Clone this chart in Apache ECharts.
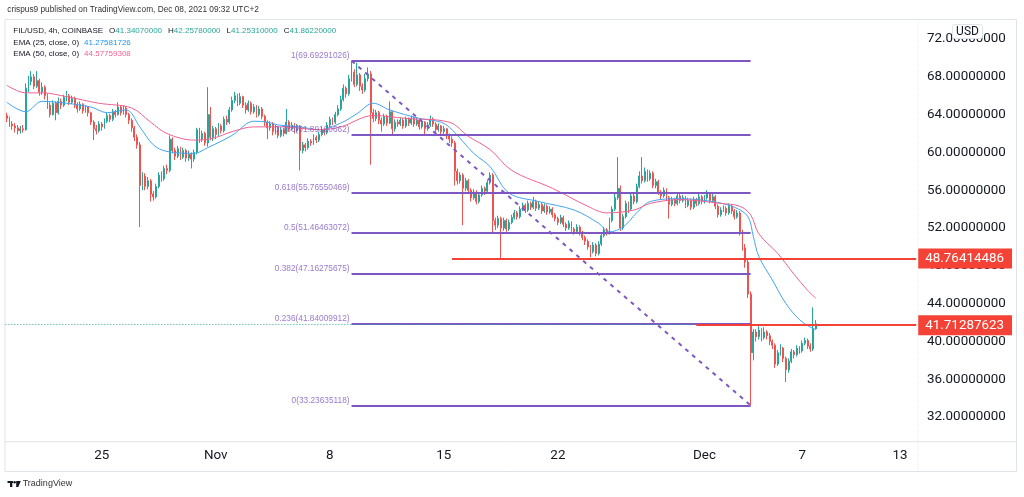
<!DOCTYPE html>
<html>
<head>
<meta charset="utf-8">
<script src="https://cdn.jsdelivr.net/npm/echarts@6/dist/echarts.min.js"></script>
<style>
html,body{margin:0;padding:0;background:#fff;}
#c{width:1024px;height:497px;}
</style>
</head>
<body>
<div id="c"></div>
<script>
// ---- categories: 4h candles starting 2021-10-19 04:00 ----
const startUTC = Date.UTC(2021, 9, 19, 4);
const slotCount = 336;
const categories = [];
for (let k = 0; k < slotCount; k++) {
  const d = new Date(startUTC + k * 4 * 3600 * 1000);
  categories.push(d.toISOString().slice(0, 16).replace('T', ' '));
}
const xTickDates = ['2021-10-25 00:00','2021-11-01 00:00','2021-11-08 00:00','2021-11-15 00:00','2021-11-22 00:00','2021-12-01 00:00','2021-12-07 00:00','2021-12-13 00:00'];
const xTickTexts = ['25','Nov','8','15','22','Dec','7','13'];
const yTicks = [32,36,40,44,48,52,56,60,64,68,72];

// ---- candle values ----
const firstOpen = 63.9;
const closes = [
63.6,63.0,62.8,62.6,62.3,62.5,62.4,66.8,67.5,68.0,
67.0,67.6,66.4,66.9,66.0,65.0,64.0,65.2,64.2,65.4,
65.0,65.8,66.0,65.3,65.7,65.0,64.6,65.1,64.4,64.8,
64.2,63.2,62.5,62.3,63.0,62.7,63.3,63.9,63.5,64.3,
64.0,64.8,64.2,64.7,64.0,63.4,62.6,61.6,60.8,56.5,
57.5,56.4,57.0,55.6,55.3,56.4,57.6,57.2,58.3,58.1,
61.4,60.2,59.6,60.4,59.5,60.2,59.4,59.8,59.3,60.0,
62.4,61.4,62.0,61.0,64.0,61.6,62.5,61.9,62.8,62.3,
63.5,63.2,64.5,65.5,66.0,65.2,65.9,65.0,64.5,65.2,
64.3,64.8,64.0,64.6,63.8,63.2,62.6,63.0,62.2,62.6,
61.8,62.4,62.0,63.2,62.5,62.9,62.3,62.8,60.2,60.8,
60.5,61.2,61.0,61.6,61.3,61.9,62.4,62.1,62.9,63.5,
63.2,64.0,64.6,65.6,66.8,66.2,67.8,68.5,67.2,68.2,
67.0,66.6,67.8,68.3,64.2,63.6,64.2,63.4,63.0,63.8,
63.1,64.3,62.5,63.2,63.0,63.4,62.8,63.5,63.1,63.6,
63.0,63.4,62.7,63.2,62.5,62.9,63.5,63.0,62.4,62.8,
62.2,62.5,61.8,61.4,61.0,58.0,57.0,57.6,56.2,57.0,
56.0,55.2,55.8,54.8,55.5,56.2,55.9,56.8,57.6,52.8,
52.3,53.0,52.0,52.8,51.9,52.6,53.1,53.6,53.2,54.0,
54.4,53.9,54.6,54.2,54.8,54.1,54.5,53.8,54.3,53.7,
54.0,53.4,53.0,52.6,53.1,52.4,52.0,52.5,51.9,51.6,
52.1,51.5,51.0,50.6,50.0,49.5,50.2,49.3,50.3,51.2,
51.8,51.5,52.8,54.0,55.2,56.2,52.0,53.2,54.6,54.0,
55.4,54.8,56.4,57.5,57.0,58.0,57.2,57.8,56.5,56.9,
55.8,55.4,56.0,55.2,54.5,55.0,54.6,55.4,54.9,55.2,
54.4,54.9,54.2,55.0,54.6,55.3,54.8,55.2,55.6,54.9,
55.3,54.3,53.4,53.9,54.1,53.6,54.3,53.8,53.2,53.6,
51.5,49.9,48.4,45.0,38.8,41.0,40.5,41.2,40.4,41.0,
40.6,40.0,39.6,37.6,38.8,39.3,38.2,37.0,37.9,38.9,
38.6,39.3,39.0,39.8,40.1,39.5,39.2,41.3407,41.8622
];
const highs = [
64.2,63.8,63.3,63.1,62.9,62.8,62.9,67.3,68.1,68.6,
68.3,68.6,67.8,67.4,67.1,66.2,65.3,65.5,65.4,65.8,
65.7,66.1,66.5,66.2,66.0,65.9,65.3,65.4,65.2,65.0,
64.9,64.3,63.4,62.9,63.3,63.2,63.6,64.2,64.1,64.6,
64.5,65.3,65.0,65.0,64.9,64.2,63.6,62.8,61.9,61.1,
57.9,57.8,57.4,57.2,55.9,56.7,57.9,58.0,58.6,58.7,
61.8,61.6,60.5,60.7,60.6,60.5,60.4,60.2,60.0,60.3,
62.6,62.6,62.3,62.2,66.9,64.8,62.8,62.7,63.1,63.0,
63.8,63.9,64.8,65.9,66.4,66.2,66.3,66.0,65.3,65.5,
65.4,65.1,65.0,64.9,64.8,64.0,63.4,63.3,63.2,62.9,
62.8,62.7,62.6,64.6,63.4,63.2,63.1,63.0,62.9,61.1,
61.0,61.5,61.4,61.9,61.8,62.2,62.7,62.6,63.2,63.8,
63.7,64.3,65.0,66.0,67.2,67.0,68.2,69.6929,68.8,69.5,
68.4,67.3,68.3,69.0,68.6,64.6,64.5,64.4,63.7,64.1,
64.0,65.4,64.4,63.5,63.5,63.7,63.6,63.8,63.7,63.9,
63.8,63.7,63.5,63.5,63.3,63.2,63.9,63.7,63.2,63.1,
62.9,62.8,62.6,62.0,61.7,61.2,58.3,57.9,57.8,57.3,
57.2,56.2,56.1,56.0,55.8,56.5,56.4,57.1,57.9,57.8,
53.1,53.3,53.2,53.1,53.0,52.9,53.4,53.9,53.8,54.3,
54.7,54.6,54.9,54.8,55.3,55.0,54.8,54.7,54.6,54.5,
54.3,54.2,53.6,53.2,53.4,53.3,52.6,52.8,52.7,52.1,
52.4,52.3,51.7,51.2,50.8,50.2,50.5,50.4,50.6,51.5,
52.1,52.0,53.1,54.3,55.6,59.5,56.5,53.5,54.9,54.8,
55.7,55.6,56.7,58.0,59.5,58.4,58.2,58.1,58.0,57.2,
57.1,56.0,56.3,56.2,55.4,55.3,55.2,55.7,55.6,55.5,
55.4,55.2,55.1,55.3,55.2,55.6,55.5,55.5,56.0,55.8,
55.6,55.5,54.5,54.2,54.4,54.3,54.6,54.5,54.0,53.9,
53.8,51.8,50.3,48.7,45.3,41.3,41.3,41.6,41.4,41.5,
41.2,40.9,40.2,39.8,39.1,39.7,39.4,38.4,38.2,39.2,
39.1,39.6,39.5,40.1,40.4,40.3,39.8,43.6,42.2578
];
const lows = [
63.2,62.7,62.4,62.1,61.9,62.0,62.1,62.3,66.4,67.1,
66.7,66.8,66.0,66.1,65.6,64.6,63.7,63.9,63.4,64.0,
64.6,64.8,65.4,65.0,65.1,64.7,64.2,64.4,64.1,64.2,
63.8,62.9,61.3,61.9,62.1,62.3,62.5,63.1,63.2,63.3,
63.7,63.9,63.9,64.0,63.7,63.0,62.2,61.2,60.4,52.1,
56.0,56.0,56.1,54.8,54.9,55.1,56.2,56.9,57.0,57.7,
57.9,59.9,59.2,59.4,59.2,59.3,59.0,59.1,58.3,59.0,
59.8,61.0,61.1,60.7,60.6,61.3,61.2,61.4,61.7,62.0,
62.1,62.9,63.0,64.3,65.2,64.9,65.0,64.7,64.1,64.3,
64.0,64.1,63.7,63.8,63.5,62.8,61.4,62.3,61.8,61.9,
61.5,61.6,61.7,61.9,62.2,62.3,62.0,62.1,58.1,59.9,
60.1,60.3,60.7,60.8,61.0,61.1,61.7,61.8,61.9,62.7,
62.9,63.0,63.8,64.4,65.4,65.8,66.0,67.5,66.9,67.0,
66.5,66.2,66.4,67.5,58.7,63.2,63.3,63.0,62.2,62.8,
62.8,63.0,61.9,62.2,62.7,62.8,62.5,62.6,62.8,62.9,
62.7,62.8,62.4,62.5,61.9,62.3,62.7,62.7,62.1,62.2,
61.9,61.9,61.4,61.0,60.6,56.5,56.6,56.7,52.3,55.9,
55.6,54.8,55.0,54.5,54.6,55.3,55.5,55.7,56.6,51.5,
51.8,52.0,48.76,51.7,51.6,51.7,52.4,52.9,52.9,53.0,
53.8,53.6,53.7,53.9,54.0,53.8,53.9,53.5,53.6,53.4,
53.5,53.1,52.7,52.3,52.4,52.1,51.7,51.8,51.6,51.3,
51.4,51.2,50.7,50.2,49.7,48.9,49.3,49.0,49.1,50.1,
51.0,51.2,51.3,52.6,53.8,55.0,51.7,51.8,53.0,53.6,
53.8,54.5,54.6,56.2,56.7,56.8,56.9,57.0,56.2,56.2,
55.5,55.0,55.2,54.9,53.0,54.3,54.3,54.4,54.6,54.7,
54.1,54.2,53.9,54.0,54.3,54.4,54.5,54.6,55.0,54.6,
54.7,54.0,53.1,53.2,53.7,53.3,53.4,53.5,52.9,53.0,
51.2,49.6,47.8,44.6,33.2364,38.0,40.0,40.2,40.0,40.2,
40.2,39.6,39.2,37.2,37.4,38.5,37.8,35.7,36.7,37.7,
38.2,38.4,38.7,38.8,39.6,39.2,38.9,39.0,41.2531
];
// each 4h crypto candle opens at the previous close
const opens = [firstOpen].concat(closes.slice(0, -1));

// ---- EMA readings [candle index, value] ----
const ema25Points = [[0,65.3],[7,64.3],[13,65.4],[22,65.2],[31,64.8],[37,64.2],[44,64.5],[49,62.7],[54,60.8],[59,60.1],[69,59.9],[74,60.5],[83,61.8],[91,63.3],[96,63.2],[100,62.9],[108,62.7],[115,62.4],[123,63.1],[129,64.1],[135,65.2],[141,64.5],[152,63.6],[160,63.2],[164,62.4],[172,59.9],[178,58.5],[185,55.7],[196,54.8],[209,53.9],[218,52.5],[222,51.6],[227,52.1],[232,53.6],[237,54.8],[248,55.1],[260,54.8],[268,54.2],[273,53.2],[275,51.1],[277,49.0],[282,46.5],[287,44.0],[292,42.3],[296,41.5],[298,41.28]];
const ema50Points = [[0,67.1],[7,66.3],[13,66.3],[22,65.9],[34,65.2],[46,64.7],[53,63.2],[59,62.0],[69,61.3],[76,61.5],[83,62.2],[91,62.7],[102,62.7],[115,62.4],[123,62.7],[135,63.9],[147,63.6],[163,63.2],[170,61.7],[178,60.3],[186,58.1],[201,56.2],[214,54.3],[221,53.6],[231,53.9],[237,54.6],[248,55.0],[263,54.6],[270,54.3],[274,53.4],[277,51.4],[284,49.3],[290,47.1],[295,45.4],[298,44.58]];

// ---- drawings ----
const fibRatios = ['1','0.786','0.618','0.5','0.382','0.236','0'];
const fibPrices = [69.69291026, 61.89120662, 55.76550469, 51.46463072, 47.16275675, 41.84009912, 33.23635118];
const fibStartIdx = 127, fibEndIdx = 274;
const redLevels = [48.76414486, 41.71287623];
const redStartIdx = [164, 254];
const lastPrice = 41.8622;
const legendOHLC = ['41.34070000','42.25780000','41.25310000','41.86220000'];
const legendEMA = ['41.27581726','44.57759308'];

const candleData = closes.map((c, i) => [opens[i], c, lows[i], highs[i]]);
const tickMap = new Map(xTickDates.map((d, i) => [d, xTickTexts[i]]));
const lastIdx = slotCount - 1;

const FIB = '#7e57c2', UP = '#26a69a', DOWN = '#ef5350', RED = '#f44336';
const AX = {color:'#131722', fontSize:13.4, fontFamily:'Roboto'};

const markData = [];
fibPrices.forEach(p => {
  markData.push([{coord:[fibStartIdx, p], lineStyle:{color:FIB, width:2, type:'solid'}, label:{show:false}}, {coord:[fibEndIdx, p]}]);
});
markData.push([{coord:[fibStartIdx, fibPrices[0]], lineStyle:{color:FIB, width:2, type:[4,5]}, label:{show:false}}, {coord:[fibEndIdx, fibPrices[6]]}]);
markData.push({yAxis:lastPrice, lineStyle:{color:UP, width:1, type:[1,2]}, label:{show:false}});
redLevels.forEach((v, k) => {
  markData.push([{coord:[redStartIdx[k], v], lineStyle:{color:RED, width:2, type:'solid'},
    label:{show:true, position:'end', distance:2, formatter:v.toFixed(8), color:'#ffffff', backgroundColor:RED,
      padding:[3,8,3,7], lineHeight:14, fontSize:13.4, fontFamily:'Roboto'}},
    {coord:[lastIdx, v]}]);
});

const chart = echarts.init(document.getElementById('c'));
chart.setOption({
  animation:false,
  backgroundColor:'#ffffff',
  grid:{left:5.4, right:106.4, top:20, bottom:55.3},
  xAxis:{type:'category', data:categories, boundaryGap:true,
    axisLine:{show:false}, axisTick:{show:false}, splitLine:{show:false},
    axisLabel:Object.assign({interval:(i, v) => tickMap.has(v), formatter:v => tickMap.get(v) || '', margin:7}, AX)},
  yAxis:{type:'value', position:'right', min:29.39, max:74.01,
    axisLine:{show:false}, axisTick:{show:false}, splitLine:{show:false},
    axisLabel:Object.assign({customValues:yTicks, formatter:v => v.toFixed(8), margin:9.4}, AX)},
  series:[
    {type:'candlestick', data:candleData, barWidth:1.4, z:2, clip:false,
      itemStyle:{color:UP, color0:DOWN, borderColor:UP, borderColor0:DOWN, borderWidth:1},
      markLine:{silent:true, symbol:['none','none'], animation:false, data:markData}},
    {type:'line', data:ema25Points, showSymbol:false, smooth:0.35, z:3, lineStyle:{color:'#42a5f5', width:1}},
    {type:'line', data:ema50Points, showSymbol:false, smooth:0.35, z:3, lineStyle:{color:'#f06292', width:1}},
    {type:'scatter', data:fibPrices.map(p => [fibStartIdx, p]), symbolSize:0, z:4,
      label:{show:true, position:'left', distance:2, offset:[0,-5], color:FIB, fontSize:8.3, fontFamily:'Liberation Sans',
        formatter:pr => fibRatios[pr.dataIndex] + '(' + fibPrices[pr.dataIndex].toFixed(8) + ')'}}
  ],
  graphic:[
    {type:'rect', silent:true, z:-1, shape:{x:5, y:19.5, width:1011.5, height:452}, style:{fill:'none', stroke:'#e0e3eb', lineWidth:1}},
    {type:'line', silent:true, z:-1, shape:{x1:5, y1:441.7, x2:1016.5, y2:441.7}, style:{stroke:'#e0e3eb', lineWidth:1}},
    {type:'line', silent:true, z:-1, shape:{x1:918, y1:19.5, x2:918, y2:471.5}, style:{stroke:'#e0e3eb', lineWidth:1, lineDash:[1,2]}},
    {type:'text', silent:true, left:7.3, top:6, style:{text:'crispus9 published on TradingView.com, Dec 08, 2021 09:32 UTC+2', fill:'#333333', fontSize:8.3, fontFamily:'Liberation Sans'}},
    {type:'text', silent:true, left:13.3, top:27, z:10, style:{
      text:'{a|FIL/USD, 4h, COINBASE}{k|O}{v|'+legendOHLC[0]+'}{k|H}{v|'+legendOHLC[1]+'}{k|L}{v|'+legendOHLC[2]+'}{k|C}{v|'+legendOHLC[3]+'}',
      rich:{a:{fill:'#131722', fontSize:8, fontFamily:'Liberation Sans'}, k:{fill:'#131722', fontSize:8, fontFamily:'Liberation Sans', padding:[0,0,0,6]}, v:{fill:UP, fontSize:8, fontFamily:'Liberation Sans'}}}},
    {type:'text', silent:true, left:13.3, top:38.5, z:10, style:{text:'{a|EMA (25, close, 0)}{v|'+legendEMA[0]+'}',
      rich:{a:{fill:'#131722', fontSize:8, fontFamily:'Liberation Sans'}, v:{fill:'#2196f3', fontSize:8, fontFamily:'Liberation Sans', padding:[0,0,0,5]}}}},
    {type:'text', silent:true, left:13.3, top:49.5, z:10, style:{text:'{a|EMA (50, close, 0)}{v|'+legendEMA[1]+'}',
      rich:{a:{fill:'#131722', fontSize:8, fontFamily:'Liberation Sans'}, v:{fill:'#f06292', fontSize:8, fontFamily:'Liberation Sans', padding:[0,0,0,5]}}}},
    {type:'rect', silent:true, z:100, shape:{x:952.5, y:24.5, width:30, height:14, r:2}, style:{fill:'#ffffff', stroke:'#e0e3eb', lineWidth:1}},
    {type:'text', silent:true, z:101, x:967.5, y:31.7, style:{text:'USD', fill:'#131722', fontSize:12, fontFamily:'Roboto', align:'center', verticalAlign:'middle'}},
    {type:'rect', silent:true, shape:{x:7.5, y:481, width:5.5, height:2}, style:{fill:'#131722'}},
    {type:'rect', silent:true, shape:{x:10, y:481, width:2.3, height:6}, style:{fill:'#131722'}},
    {type:'circle', silent:true, shape:{cx:14.6, cy:482.2, r:1.2}, style:{fill:'#131722'}},
    {type:'polygon', silent:true, shape:{points:[[16.2,481],[20.8,481],[18.3,487],[16.2,487]]}, style:{fill:'#131722'}},
    {type:'text', silent:true, left:22.7, top:479.5, style:{text:'TradingView', fill:'#333333', fontSize:9, fontFamily:'Liberation Sans'}}
  ]
});
</script>
</body>
</html>
